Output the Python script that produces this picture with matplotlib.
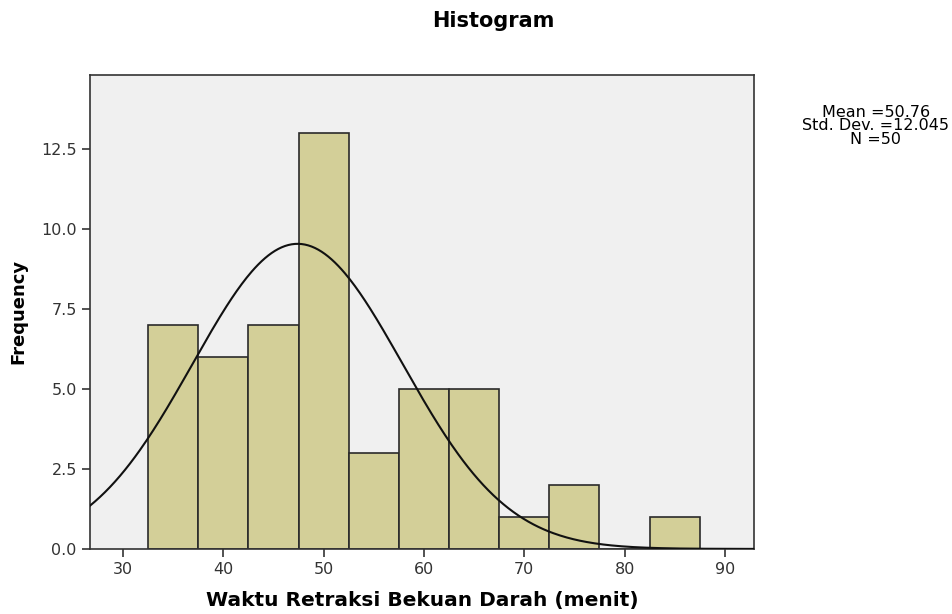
import numpy as np
import matplotlib
matplotlib.use("Agg")
import matplotlib.pyplot as plt

# histogram bins (left edge) and counts
bin_left = [32.5, 37.5, 42.5, 47.5, 52.5, 57.5, 62.5, 67.5, 72.5, 77.5, 82.5]
counts = [7, 6, 7, 13, 3, 5, 5, 1, 2, 0, 1]
bin_width = 5

# normal curve as drawn in the picture
curve_mean = 47.4
curve_sd = 10.47
n_total = 50

stats_text = "Mean =50.76\nStd. Dev. =12.045\nN =50"
x_ticks = [30, 40, 50, 60, 70, 80, 90]
y_ticks = [0.0, 2.5, 5.0, 7.5, 10.0, 12.5]


def main():
    plt.rcParams['font.family'] = ['DejaVu Sans']
    fig = plt.figure(figsize=(9.52, 6.14), dpi=100)
    ax = fig.add_axes([0.0945, 0.106, 0.698, 0.772])
    ax.set_facecolor('#f0f0f0')

    ax.bar(bin_left, counts, width=bin_width, align='edge',
           color='#d3cf98', edgecolor='#2a2a2a', linewidth=1.2, zorder=2)

    xs = np.linspace(26.7, 93, 400)
    ys = n_total * bin_width / (curve_sd * np.sqrt(2 * np.pi)) * \
        np.exp(-0.5 * ((xs - curve_mean) / curve_sd) ** 2)
    ax.plot(xs, ys, color='#111111', linewidth=1.5, zorder=3)

    ax.set_xlim(26.7, 92.95)
    ax.set_ylim(0, 14.8)
    ax.set_xticks(x_ticks)
    ax.set_yticks(y_ticks)
    ax.set_yticklabels(["%.1f" % v for v in y_ticks])
    ax.tick_params(axis='both', direction='out', length=6, width=1.2,
                   labelsize=11.5, labelcolor='#333333', color='#333333')
    for s in ax.spines.values():
        s.set_color('#333333')
        s.set_linewidth(1.2)

    ax.set_xlabel("Waktu Retraksi Bekuan Darah (menit)", fontsize=14.5,
                  fontweight='bold', labelpad=10)
    ax.set_ylabel("Frequency", fontsize=13, fontweight='bold', labelpad=10)

    fig.text(0.518, 0.965, "Histogram", ha='center', va='center',
             fontsize=15, fontweight='bold')
    fig.text(0.92, 0.795, stats_text, ha='center', va='center',
             fontsize=11.5, linespacing=0.85)

    fig.savefig("out.png", dpi=100)


if __name__ == "__main__":
    main()
